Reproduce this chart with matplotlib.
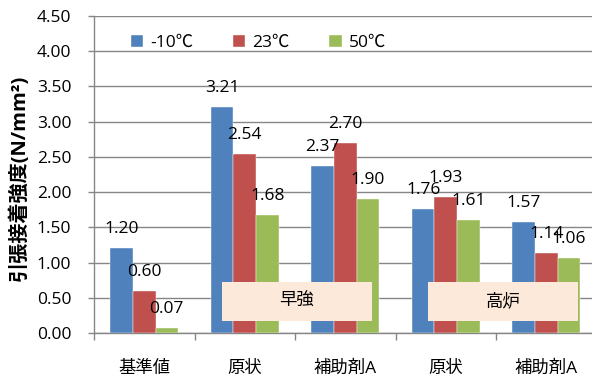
import matplotlib
matplotlib.use("Agg")
import matplotlib.pyplot as plt
import numpy as np
from matplotlib.patches import Rectangle

plt.rcParams['font.family'] = ['Open Sans', 'Noto Sans CJK JP', 'DejaVu Sans']

categories = ["基準値", "原状", "補助剤A", "原状", "補助剤A"]
series_names = ["-10℃", "23℃", "50℃"]
vals_m10 = [1.20, 3.21, 2.37, 1.76, 1.57]
vals_23 = [0.60, 2.54, 2.70, 1.93, 1.14]
vals_50 = [0.07, 1.68, 1.90, 1.61, 1.06]
colors = ["#4F81BD", "#C0504D", "#9BBB59"]
group_labels = ["早強", "高炉"]
yticks = [0.0, 0.5, 1.0, 1.5, 2.0, 2.5, 3.0, 3.5, 4.0, 4.5]

W, H = 592, 380
fig = plt.figure(figsize=(W / 100, H / 100), dpi=100)
ax = fig.add_axes([94 / W, 1 - 333 / H, 502.5 / W, 317 / H])

x = np.arange(len(categories))
bw = 0.224
grid_c = "#868686"
fs = 12.5

for i, (vals, name, c) in enumerate(zip([vals_m10, vals_23, vals_50], series_names, colors)):
    pos = x + (i - 1) * bw
    ax.bar(pos, vals, width=bw, color=c, label=name, zorder=3,
           edgecolor="#FFFFFF", linewidth=0.3)
    for p, v in zip(pos, vals):
        ax.annotate(f"{v:.2f}", (p, v), xytext=(0, 19), textcoords="offset pixels",
                    ha="center", va="center", fontsize=fs, zorder=6)

ax.set_xlim(-0.5, len(categories) - 0.5)
ax.set_ylim(0, 4.5)
ax.set_yticks(yticks)
ax.set_yticklabels([f"{t:.2f}" for t in yticks], fontsize=fs)
ax.yaxis.grid(True, color=grid_c, linewidth=1.0, zorder=0)
ax.set_axisbelow(True)

ax.set_xticks(np.arange(len(categories) + 1) - 0.5)
ax.set_xticklabels([])
ax.set_xticks(x, minor=True)
ax.set_xticklabels(categories, minor=True, fontsize=fs)
ax.tick_params(axis="x", which="minor", length=0, pad=20)
ax.tick_params(axis="x", which="major", length=5, color=grid_c, width=1)
ax.tick_params(axis="y", length=4.3, color=grid_c, width=1, pad=12)

for s in ["top", "right"]:
    ax.spines[s].set_visible(False)
for s in ["left", "bottom"]:
    ax.spines[s].set_color(grid_c)
    ax.spines[s].set_linewidth(1.0)

ax.set_ylabel("引張接着強度(N/mm²)", fontsize=14.5, fontweight="bold")
ax.yaxis.set_label_coords(-64 / 502.5, 0.49)

# group boxes under the bars
box_y0, box_h = 0.17, 0.555
for xc0, xc1, lab in [(0.774, 2.266, group_labels[0]), (2.82, 4.32, group_labels[1])]:
    ax.add_patch(Rectangle((xc0, box_y0), xc1 - xc0, box_h, facecolor="#FDE9D9",
                           edgecolor="none", zorder=5))
    ax.text((xc0 + xc1) / 2, box_y0 + box_h / 2, lab, ha="center", va="center",
            fontsize=fs, zorder=6)

leg = ax.legend(loc="center", bbox_to_anchor=(0.327, 0.915), ncol=3, frameon=False,
                fontsize=fs, handlelength=0.7, handleheight=0.7, handletextpad=0.4,
                columnspacing=2.3)

fig.savefig("out.png", dpi=100)
